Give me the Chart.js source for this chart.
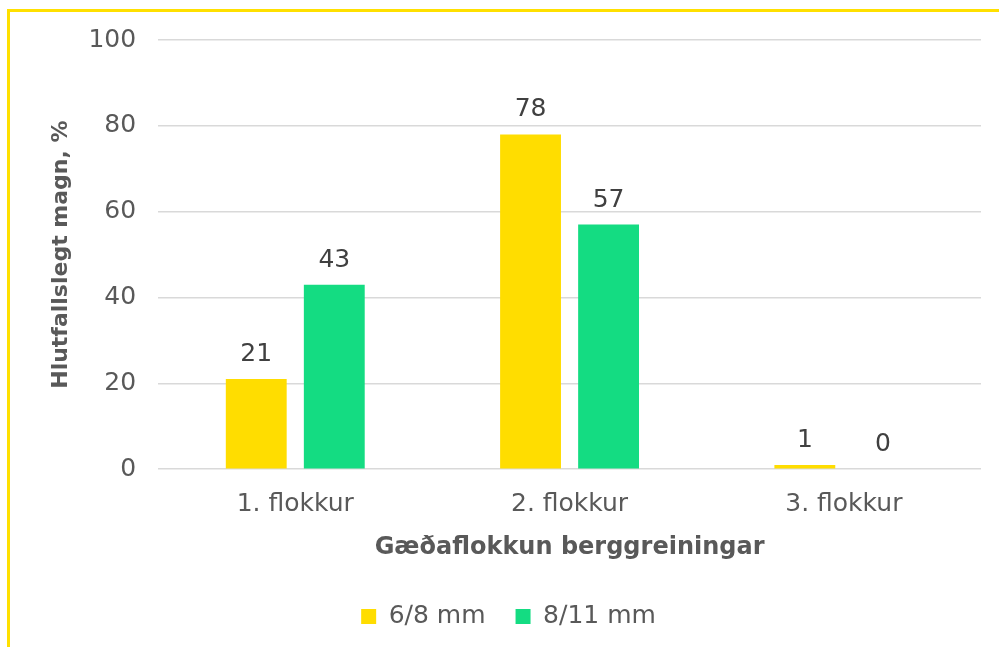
<!DOCTYPE html>
<html>
<head>
  <meta charset="utf-8">
  <title>Gæðaflokkun berggreiningar</title>
  <script src="https://cdn.jsdelivr.net/npm/chart.js@4/dist/chart.umd.min.js"></script>
  <style>
    html, body { margin: 0; background: #fff; overflow: hidden; }
    #chart { display: block; }
  </style>
</head>
<body>
  <canvas id="chart" width="999" height="647"></canvas>
  <script>
    var categories = ['1. flokkur', '2. flokkur', '3. flokkur'];
    var small = [21, 78, 1];    // 6/8 mm
    var large = [43, 57, 0];    // 8/11 mm
    var seriesNames = ['6\u22158 mm', '8\u221511 mm'];
    var yTicks = [0, 20, 40, 60, 80, 100];

    var fontFamily = '"DejaVu Sans", sans-serif';

    // yellow frame along the top and left edge
    var frame = {
      id: 'frame',
      beforeDraw: function (chart) {
        var ctx = chart.ctx;
        ctx.save();
        ctx.strokeStyle = '#FFE000';
        ctx.lineWidth = 3;
        ctx.beginPath();
        ctx.moveTo(8.5, chart.height);
        ctx.lineTo(8.5, 10.5);
        ctx.lineTo(chart.width, 10.5);
        ctx.stroke();
        ctx.restore();
      }
    };

    // draw the value above every bar
    var valueLabels = {
      id: 'valueLabels',
      afterDatasetsDraw: function (chart) {
        var ctx = chart.ctx;
        ctx.save();
        ctx.font = '25px ' + fontFamily;
        ctx.fillStyle = '#404040';
        ctx.textAlign = 'center';
        ctx.textBaseline = 'bottom';
        chart.data.datasets.forEach(function (ds, i) {
          chart.getDatasetMeta(i).data.forEach(function (bar, j) {
            ctx.fillText(ds.data[j], bar.x, bar.y - 12);
          });
        });
        ctx.restore();
      }
    };

    new Chart(document.getElementById('chart').getContext('2d'), {
      type: 'bar',
      data: {
        labels: categories,
        datasets: [{
          label: seriesNames[0],
          data: small,
          backgroundColor: '#FFDD00'
        }, {
          label: seriesNames[1],
          data: large,
          backgroundColor: '#14DC82'
        }]
      },
      options: {
        responsive: false,
        animation: false,
        categoryPercentage: 0.569,
        barPercentage: 0.78,
        layout: { padding: { left: 36, right: 18, top: 40, bottom: 8 } },
        plugins: {
          tooltip: { enabled: false },
          legend: {
            position: 'bottom',
            labels: {
              boxWidth: 15,
              boxHeight: 15,
              padding: 30,
              color: '#595959',
              font: { family: fontFamily, size: 25 }
            }
          }
        },
        scales: {
          x: {
            grid: { display: false },
            border: { display: false },
            ticks: { color: '#595959', font: { family: fontFamily, size: 25 }, padding: 12 },
            title: {
              display: true,
              text: 'Gæðaflokkun berggreiningar',
              color: '#595959',
              padding: { top: 2, bottom: 12 },
              font: { family: fontFamily, size: 24, weight: 'bold' }
            }
          },
          y: {
            min: 0,
            max: 100,
            afterBuildTicks: function (axis) {
              axis.ticks = yTicks.map(function (v) { return { value: v }; });
            },
            grid: { color: '#D9D9D9', lineWidth: 1.5, drawTicks: false },
            border: { display: false },
            ticks: { color: '#595959', font: { family: fontFamily, size: 25 }, padding: 22 },
            title: {
              display: true,
              text: 'Hlutfallslegt magn, %',
              color: '#595959',
              padding: { top: 12, bottom: -8 },
              font: { family: fontFamily, size: 22, weight: 'bold' }
            }
          }
        }
      },
      plugins: [frame, valueLabels]
    });
  </script>
</body>
</html>
